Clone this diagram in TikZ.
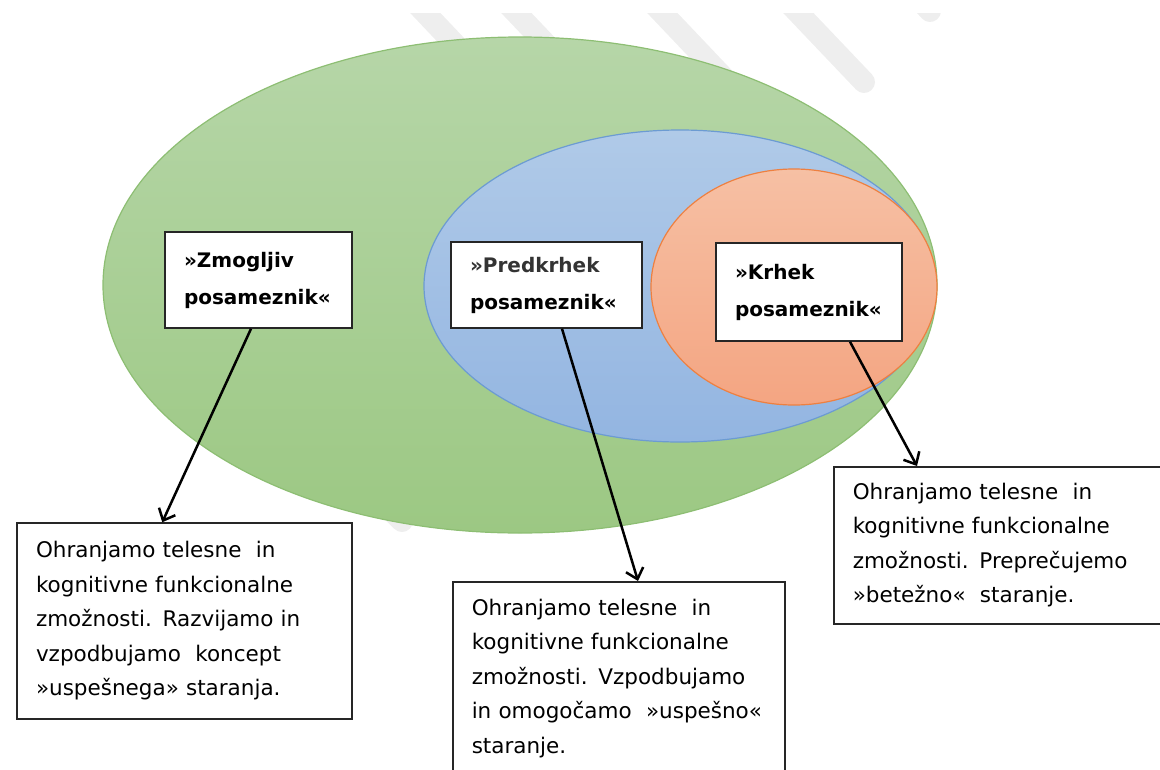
\documentclass[tikz,border=0pt]{standalone}
\usepackage{fontspec}
\setmainfont{DejaVu Sans}
\usetikzlibrary{shapes.geometric,arrows.meta,calc}
\definecolor{gTop}{HTML}{B6D6A8}
\definecolor{gBot}{HTML}{9CC883}
\definecolor{gEdge}{HTML}{8DBE73}
\definecolor{bTop}{HTML}{B0CAE8}
\definecolor{bBot}{HTML}{93B5E1}
\definecolor{bEdge}{HTML}{6C9BD2}
\definecolor{oTop}{HTML}{F6C0A4}
\definecolor{oBot}{HTML}{F4A582}
\definecolor{oEdge}{HTML}{EE8040}
\definecolor{wmark}{HTML}{EEEEEE}
\definecolor{boxEdge}{HTML}{262626}
\tikzset{
  circ/.style={ellipse, line width=1.2pt, inner sep=0pt},
  labelbox/.style={draw=boxEdge, fill=white, line width=1.5pt, align=left,
    inner xsep=19pt, inner ysep=0pt,
    font=\fontsize{20}{37}\selectfont\bfseries},
  textbox/.style={draw=boxEdge, fill=white, line width=1.5pt, align=left,
    inner xsep=19pt, font=\fontsize{21.5}{34.5}\selectfont},
  arr/.style={line width=2.5pt, -{Straight Barb[length=10pt,width=18pt]}},
  stripe/.style={wmark, line width=22pt, line cap=round}
}
\begin{document}
\begin{tikzpicture}[x=1pt,y=-1pt]
\useasboundingbox (0,0) rectangle (1160,769);
\clip (0,0) rectangle (1160,769);
% watermark stripes
\begin{scope}
\clip (0,13) rectangle (1160,769);
\draw[stripe] (413,0) -- (520,113);
\draw[stripe] (504,0) -- (620,122);
\draw[stripe] (650,0) -- (780,137);
\draw[stripe] (786,0) -- (864,82);
\draw[stripe] (920,0) -- (930,11);
\draw[stripe] (330,450) -- (402,521);
\end{scope}
% ellipses
\node[circ, draw=gEdge, top color=gTop, bottom color=gBot,
  minimum width=834pt, minimum height=496pt] (green) at (520,285) {};
\node[circ, draw=bEdge, top color=bTop, bottom color=bBot,
  minimum width=512pt, minimum height=312pt] (blue) at (680,286) {};
\node[circ, draw=oEdge, top color=oTop, bottom color=oBot,
  minimum width=286pt, minimum height=236pt] (orange) at (794,287) {};
% label boxes
\node[labelbox, text width=149pt, minimum height=96pt] (box1) at (258.5,280)
  {»Zmogljiv\\posameznik«};
\node[labelbox, text width=153pt, minimum height=86pt] (box2) at (546.5,285)
  {{\color{black!80}»Predkrhek}\\posameznik«};
\node[labelbox, text width=148pt, minimum height=98pt] (box3) at (809,292)
  {»Krhek\\posameznik«};
% text boxes
\node[textbox, text width=297pt, minimum height=196pt, inner ysep=0pt] (out1) at (184.5,621)
  {Ohranjamo telesne\ \ in\\kognitivne funkcionalne\\zmožnosti. Razvijamo in\\vzpodbujamo\ \ koncept\\»uspešnega» staranja.};
\node[textbox, anchor=north west, text width=294pt, inner ysep=17pt] (out2) at (452,581)
  {Ohranjamo telesne\ \ in\\kognitivne funkcionalne\\zmožnosti. Vzpodbujamo\\in omogočamo\ \ »uspešno«\\staranje.};
\node[textbox, anchor=north west, text width=304pt, minimum height=157pt, inner ysep=15pt] (out3) at (833,466)
  {Ohranjamo telesne\ \ in\\kognitivne funkcionalne\\zmožnosti. Preprečujemo\\»betežno«\ \ staranje.};
% arrows
\draw[arr] ($(box1.south)+(-7.5,0)$) -- ($(out1.north west)+(146,0)$);
\draw[arr] ($(box2.south)+(15.5,0)$) -- ($(out2.north west)+(186,0)$);
\draw[arr] ($(box3.south)+(41,0)$) -- ($(out3.north west)+(84,0)$);
\end{tikzpicture}
\end{document}
